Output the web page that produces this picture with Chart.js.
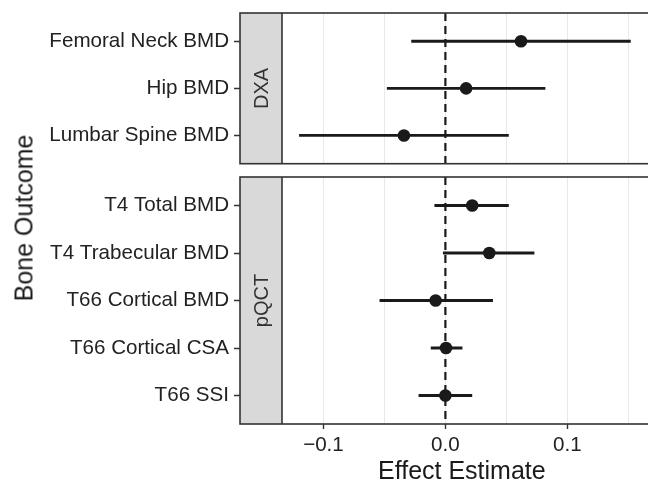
<!DOCTYPE html>
<html>
<head>
<meta charset="utf-8">
<script src="https://cdn.jsdelivr.net/npm/chart.js@4.4.1/dist/chart.umd.min.js"></script>
<style>
  body { margin: 0; background: #fff; }
  #wrap { position: relative; width: 648px; height: 485px; overflow: hidden; }
  canvas { position: absolute; left: 0; }
  #ytitle {
    position: absolute; left: 24px; top: 218px;
    transform: translate(-50%, -50%) rotate(-90deg);
    font: 25px "Liberation Sans", Arial, sans-serif; line-height: 1;
    color: #1a1a1a; white-space: nowrap;
  }
</style>
</head>
<body>
<div id="wrap">
  <canvas id="topChart" width="648" height="170" style="top:0"></canvas>
  <canvas id="bottomChart" width="648" height="315" style="top:170px"></canvas>
  <div id="ytitle">Bone Outcome</div>
</div>
<script>
// panel labels
const panels = ['DXA', 'pQCT']

// DXA outcomes
const dxaLabels = ['Femoral Neck BMD', 'Hip BMD', 'Lumbar Spine BMD']
const dxaEst = [0.062, 0.017, -0.034]
const dxaLow = [-0.028, -0.048, -0.120]
const dxaHigh = [0.152, 0.082, 0.052]

// pQCT outcomes
const pqctLabels = ['T4 Total BMD', 'T4 Trabecular BMD', 'T66 Cortical BMD', 'T66 Cortical CSA', 'T66 SSI']
const pqctEst = [0.022, 0.036, -0.008, 0.0005, 0.0]
const pqctLow = [-0.009, -0.002, -0.054, -0.012, -0.022]
const pqctHigh = [0.052, 0.073, 0.039, 0.014, 0.022]

// x axis
const xTicks = [-0.1, -0.05, 0, 0.05, 0.1, 0.15]
const xLabelTicks = [-0.1, 0, 0.1]
const xMin = -0.134
const xMax = 0.161

const FONT = '"Liberation Sans", Arial, sans-serif'
const INK = '#1a1a1a'

const panelFrame = {
  id: 'panelFrame',
  beforeDatasetsDraw(chart, args, opts) {
    const { ctx, chartArea } = chart
    const x0 = chart.scales.x.getPixelForValue(0)
    ctx.save()
    ctx.strokeStyle = INK
    ctx.lineWidth = 2.2
    ctx.setLineDash([8, 5])
    ctx.beginPath()
    ctx.moveTo(x0, chartArea.top)
    ctx.lineTo(x0, chartArea.bottom)
    ctx.stroke()
    ctx.restore()
  },
  afterDraw(chart, args, opts) {
    const { ctx, chartArea } = chart
    const left = chartArea.left - opts.stripWidth
    const h = chartArea.bottom - chartArea.top
    ctx.save()
    ctx.fillStyle = '#d9d9d9'
    ctx.fillRect(left, chartArea.top, opts.stripWidth, h)
    ctx.strokeStyle = '#333'
    ctx.lineWidth = 1.6
    ctx.strokeRect(left, chartArea.top, chart.width + 10 - left, h)
    ctx.beginPath()
    ctx.moveTo(chartArea.left, chartArea.top)
    ctx.lineTo(chartArea.left, chartArea.bottom)
    ctx.stroke()
    ctx.translate(left + opts.stripWidth / 2, chartArea.top + h / 2)
    ctx.rotate(-Math.PI / 2)
    ctx.fillStyle = '#333'
    ctx.font = '20px ' + FONT
    ctx.textAlign = 'center'
    ctx.textBaseline = 'middle'
    ctx.fillText(opts.label, 0, 1)
    ctx.restore()
  }
}

const noPad = (scale) => {
  scale.paddingTop = 0
  scale.paddingBottom = 0
  scale.paddingLeft = 0
  scale.paddingRight = 0
}

const makePanel = (canvasId, label, labels, est, low, high, showX, padTop, xHeight) => {
  const ciSets = labels.map((l, i) => ({
    type: 'scatter',
    showLine: true,
    data: [{ x: low[i], y: i + 1 }, { x: high[i], y: i + 1 }],
    borderColor: INK,
    borderWidth: 2.8,
    pointRadius: 0
  }))
  const pointSet = {
    type: 'scatter',
    data: est.map((v, i) => ({ x: v, y: i + 1 })),
    backgroundColor: INK,
    borderWidth: 0,
    pointRadius: 6.3
  }

  return new Chart(document.getElementById(canvasId), {
    type: 'scatter',
    data: { datasets: [...ciSets, pointSet] },
    options: {
      responsive: false,
      animation: false,
      layout: { padding: { top: padTop, bottom: 0, left: 0, right: 0 } },
      plugins: {
        legend: { display: false },
        tooltip: { enabled: false },
        panelFrame: { label: label, stripWidth: 42 }
      },
      scales: {
        x: {
          type: 'linear',
          min: xMin,
          max: xMax,
          afterBuildTicks: (scale) => { scale.ticks = xTicks.map(v => ({ value: v })) },
          afterFit: (scale) => { scale.height = xHeight; noPad(scale) },
          border: { display: false },
          grid: {
            color: '#e8e8e8',
            lineWidth: 1,
            drawTicks: showX,
            tickLength: 5,
            tickWidth: 1.4,
            tickColor: (c) => xLabelTicks.some(t => Math.abs(t - c.tick.value) < 1e-9) ? '#333' : 'rgba(0,0,0,0)'
          },
          ticks: {
            display: showX,
            padding: 4,
            color: '#222',
            font: { family: FONT, size: 20.6 },
            callback: (v) => xLabelTicks.some(t => Math.abs(t - v) < 1e-9) ? v.toFixed(1).replace('-', '\u2212') : ''
          },
          title: {
            display: showX,
            text: 'Effect Estimate',
            color: INK,
            padding: { top: 0, bottom: 0 },
            font: { family: FONT, size: 25, lineHeight: 1 }
          }
        },
        y: {
          type: 'linear',
          reverse: true,
          min: 0.4,
          max: labels.length + 0.6,
          afterBuildTicks: (scale) => { scale.ticks = labels.map((l, i) => ({ value: i + 1 })) },
          afterFit: (scale) => { scale.width = 282; noPad(scale) },
          border: { display: false },
          grid: {
            drawOnChartArea: false,
            drawTicks: true,
            tickLength: 48,
            tickWidth: 1.4,
            tickColor: '#333'
          },
          ticks: {
            padding: 5,
            color: '#222',
            font: { family: FONT, size: 20.6 },
            callback: (v) => labels[Math.round(v) - 1]
          }
        }
      }
    },
    plugins: [panelFrame]
  })
}

makePanel('topChart', panels[0], dxaLabels, dxaEst, dxaLow, dxaHigh, false, 13, 6)
makePanel('bottomChart', panels[1], pqctLabels, pqctEst, pqctLow, pqctHigh, true, 7, 61)
</script>
</body>
</html>
